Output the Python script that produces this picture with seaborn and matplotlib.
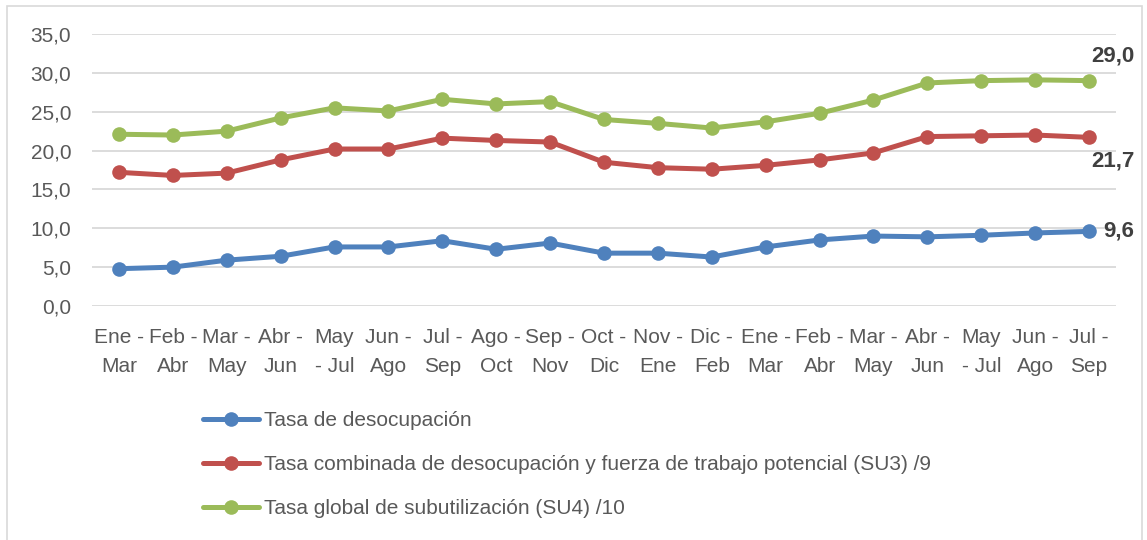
import matplotlib
matplotlib.use("Agg")
import numpy as np
import pandas as pd
import seaborn as sns
import matplotlib.pyplot as plt
from matplotlib.patches import Rectangle
from matplotlib.ticker import FuncFormatter

# === Datos ===
periodos = ["Ene -\nMar", "Feb -\nAbr", "Mar -\nMay", "Abr -\nJun", "May\n- Jul",
            "Jun -\nAgo", "Jul -\nSep", "Ago -\nOct", "Sep -\nNov", "Oct -\nDic",
            "Nov -\nEne", "Dic -\nFeb", "Ene -\nMar", "Feb -\nAbr", "Mar -\nMay",
            "Abr -\nJun", "May\n- Jul", "Jun -\nAgo", "Jul -\nSep"]

desocupacion = [4.8, 5.0, 5.9, 6.4, 7.6, 7.6, 8.4, 7.3, 8.1, 6.8,
                6.8, 6.3, 7.6, 8.5, 9.0, 8.9, 9.1, 9.4, 9.6]
su3 = [17.2, 16.8, 17.1, 18.8, 20.2, 20.2, 21.6, 21.3, 21.1, 18.5,
       17.8, 17.6, 18.1, 18.8, 19.7, 21.8, 21.9, 22.0, 21.7]
su4 = [22.1, 22.0, 22.5, 24.2, 25.5, 25.1, 26.6, 26.0, 26.3, 24.0,
       23.5, 22.9, 23.7, 24.8, 26.5, 28.7, 29.0, 29.1, 29.0]

series = ["Tasa de desocupación",
          "Tasa combinada de desocupación y fuerza de trabajo potencial (SU3) /9",
          "Tasa global de subutilización (SU4) /10"]
colores = ["#4F81BD", "#C0504D", "#9BBB59"]

df = pd.DataFrame({"pos": range(len(periodos)),
                   series[0]: desocupacion,
                   series[1]: su3,
                   series[2]: su4})
df_long = df.melt(id_vars="pos", var_name="serie", value_name="valor")

# === Estilo ===
sns.set_style("white")
plt.rcParams['font.family'] = ['Liberation Sans', 'DejaVu Sans']
gris = "#595959"

W, H = 1147, 540
fig = plt.figure(figsize=(W / 100, H / 100), dpi=100)
ax = fig.add_axes([92 / W, 1 - 306 / H, (1116 - 92) / W, (306 - 34) / H])

sns.lineplot(data=df_long, x="pos", y="valor", hue="serie", hue_order=series,
             palette=colores, marker="o", markersize=10.5, markeredgewidth=0,
             linewidth=3.6, ax=ax)

ax.set_xlim(-0.5, len(periodos) - 0.5)
ax.set_ylim(0, 35)
ax.set_yticks(np.arange(0, 36, 5))
ax.yaxis.set_major_formatter(FuncFormatter(lambda v, p: f"{v:.1f}".replace(".", ",")))
ax.set_xticks(range(len(periodos)))
ax.set_xticklabels(periodos, linespacing=1.62)
ax.tick_params(axis="x", length=0, pad=16, labelsize=15, labelcolor=gris)
ax.tick_params(axis="y", length=0, pad=15, labelsize=15, labelcolor=gris)
ax.set_xlabel("")
ax.set_ylabel("")
ax.yaxis.grid(True, color="#D9D9D9", linewidth=1.3)
ax.xaxis.grid(False)
ax.set_axisbelow(True)
for s in ax.spines.values():
    s.set_visible(False)

# === Etiquetas finales ===
ultimo = len(periodos) - 1
ax.annotate("29,0", xy=(ultimo, su4[-1]), xytext=(17, 18), textcoords="offset points",
            ha="center", va="center", fontsize=16, fontweight="bold", color="#404040")
ax.annotate("21,7", xy=(ultimo, su3[-1]), xytext=(17, -17), textcoords="offset points",
            ha="center", va="center", fontsize=16, fontweight="bold", color="#404040")
ax.annotate("9,6", xy=(ultimo, desocupacion[-1]), xytext=(10, 0), textcoords="offset points",
            ha="left", va="center", fontsize=16, fontweight="bold", color="#404040")

# === Leyenda ===
ax.get_legend().remove()
handles = ax.lines[:3]
fig.legend(handles, series, loc="upper left", bbox_to_anchor=(203 / W, 1 - 411 / H),
           frameon=False, fontsize=15, labelcolor=gris, borderpad=0, borderaxespad=0,
           handlelength=2.7, handletextpad=0.25, labelspacing=1.2)

# borde del area del grafico
fig.patches.append(Rectangle((7 / W, -0.05), (1142 - 7) / W, 1.05 - 6 / H,
                             transform=fig.transFigure, fill=False,
                             edgecolor="#D9D9D9", linewidth=1.2))

fig.savefig("out.png", dpi=100)
